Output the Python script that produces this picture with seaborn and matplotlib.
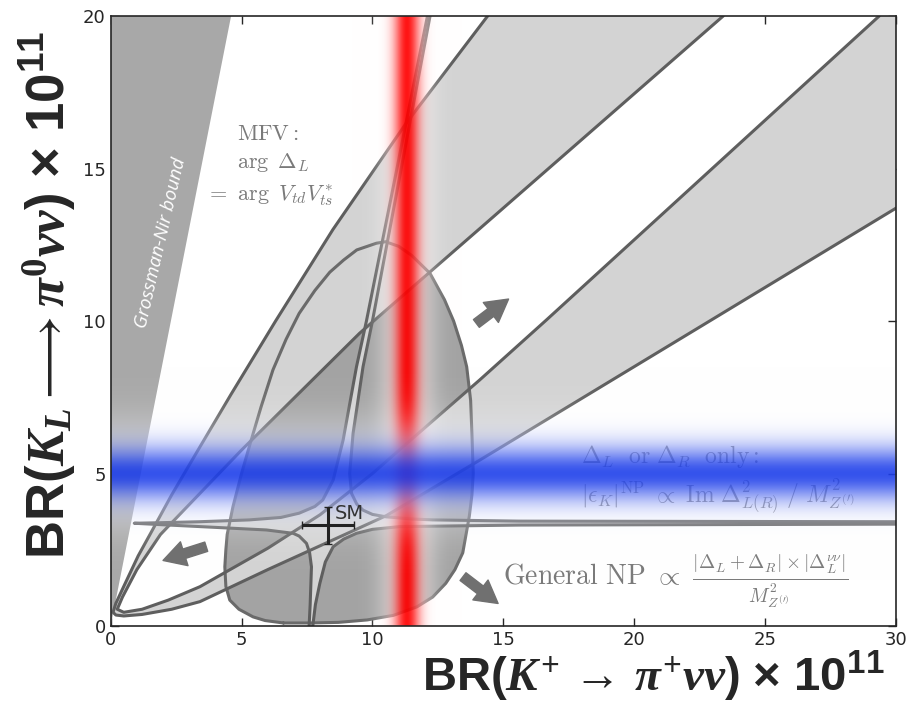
import numpy as np
import pandas as pd
import matplotlib
matplotlib.use("Agg")
import matplotlib.pyplot as plt
import seaborn as sns
from matplotlib.path import Path
from matplotlib.patches import PathPatch, Polygon

# === Data (BR x 1e11) ===
# Grossman-Nir bound edge
gn_x = [0.0, 4.6]
gn_y = [0.0, 20.0]

# General NP region ("egg")
egg_x = [6.6, 5.9, 5.44, 4.9, 4.55, 4.4, 4.36, 4.4, 4.45, 4.67, 5.0, 5.3, 5.75, 6.2, 6.7, 7.2, 7.8,
         8.37, 8.9, 9.4, 10.15, 10.5, 11.0, 11.5, 12.2, 12.75, 13.1, 13.4, 13.6, 13.75, 13.8, 13.85,
         13.8, 13.7, 13.45, 13.15, 12.8, 12.3, 11.7, 10.8, 9.8, 8.7, 7.6]
egg_y = [0.1, 0.18, 0.3, 0.55, 0.85, 1.3, 1.94, 2.5, 3.0, 3.91, 5.0, 5.9, 7.2, 8.4, 9.4, 10.25, 11.0,
         11.6, 12.0, 12.33, 12.55, 12.6, 12.45, 12.15, 11.56, 10.7, 10.0, 9.2, 8.5, 7.4, 6.3, 5.0,
         4.3, 3.6, 2.4, 1.85, 1.4, 0.95, 0.63, 0.35, 0.2, 0.12, 0.1]

# MFV band: outer curve (arm A, arm D) and inner curve (arm B, arm C)
arm_a_x = [14.4, 11.3, 8.49, 6.3, 4.6, 3.29, 2.33, 1.5, 1.05, 0.5, 0.2, 0.09]
arm_a_y = [20.0, 16.5, 13.0, 10.0, 7.6, 5.7, 4.3, 3.0, 2.3, 1.3, 0.75, 0.45]
arm_d_x = [0.09, 0.2, 0.5, 1.2, 2.33, 3.41, 6.0, 10.53, 14.1, 22.4, 30.0]
arm_d_y = [0.45, 0.36, 0.33, 0.38, 0.55, 0.8, 1.85, 3.62, 5.44, 9.75, 13.7]
arm_b_x = [23.4, 14.1, 10.66, 9.51, 5.0, 3.41, 1.9, 1.0, 0.45, 0.25]
arm_b_y = [20.0, 13.03, 10.46, 9.6, 5.77, 4.35, 3.0, 1.85, 0.95, 0.55]
arm_c_x = [0.25, 0.5, 1.2, 2.2, 3.41, 6.0, 8.0, 10.0, 12.0, 14.1, 16.64, 29.36]
arm_c_y = [0.55, 0.45, 0.55, 0.85, 1.29, 2.55, 3.65, 5.0, 6.5, 8.07, 10.03, 20.0]

# eps_K branches (Delta_L or Delta_R only)
ul_x = [0.9, 2.0, 3.4, 5.3, 6.5, 7.2, 7.8, 8.1, 8.5, 8.88, 9.39, 9.77, 12.1]
ul_y = [3.37, 3.39, 3.42, 3.48, 3.56, 3.70, 3.92, 4.13, 4.79, 6.1, 8.5, 10.0, 20.0]
ur_x = [12.2, 10.0, 9.64, 9.26, 9.13, 9.2, 9.4, 9.64, 10.0, 10.53, 11.5, 12.3, 15.6, 30.0]
ur_y = [20.0, 10.0, 8.5, 6.32, 5.0, 4.35, 4.0, 3.8, 3.66, 3.58, 3.51, 3.48, 3.44, 3.42]
lr_x = [30.0, 15.6, 11.04, 10.0, 9.39, 8.9, 8.5, 8.2, 7.99, 7.82, 7.72]
lr_y = [3.34, 3.31, 3.26, 3.17, 3.04, 2.85, 2.6, 2.1, 1.4, 0.7, 0.0]
ll_x = [7.58, 7.62, 7.67, 7.6, 7.48, 7.2, 6.97, 5.95, 3.41, 2.0, 0.9]
ll_y = [0.0, 0.7, 1.94, 2.4, 2.71, 2.95, 3.04, 3.15, 3.26, 3.32, 3.37]

# SM prediction
sm_x, sm_y = 8.3, 3.3
sm_xerr, sm_yerr = 1.0, 0.6

# experimental bands
red_x, red_w = 11.3, 0.4
blue_y, blue_w = 5.0, 0.75

# arrows (tail -> head)
arrow_tails = [(13.97, 9.92), (3.65, 2.6), (13.46, 1.62)]
arrow_heads = [(15.2, 10.72), (2.0, 2.15), (14.8, 0.74)]

# === Style ===
sns.set_style("ticks")
plt.rcParams["mathtext.fontset"] = "custom"
plt.rcParams["mathtext.it"] = "Liberation Serif:italic:bold"
plt.rcParams["mathtext.rm"] = "Liberation Serif:bold"
plt.rcParams["mathtext.bf"] = "Liberation Serif:bold"
plt.rcParams["mathtext.sf"] = "Liberation Sans:bold"

LINE = "#5e5e5e"
LIGHT = "#d3d3d3"
DARK = "#a3a3a3"
TXT = "#7a7a7a"

fig = plt.figure(figsize=(9.14, 7.14), dpi=100)
ax = fig.add_axes([0.1211, 0.1232, 0.8592, 0.8544])

# Grossman-Nir region
ax.add_patch(Polygon([(gn_x[0], gn_y[0]), (gn_x[1], gn_y[1]), (0, gn_y[1])],
                     closed=True, fc="#a8a8a8", ec="none", zorder=1))

# General NP egg
ax.add_patch(Polygon(list(zip(egg_x, egg_y)), closed=True, fc=DARK, ec="none", zorder=2))

# MFV annulus (outer curve minus inner curve)
outer = list(zip(arm_a_x, arm_a_y)) + list(zip(arm_d_x, arm_d_y)) + [(33, 16), (33, 23), (15, 23)]
inner = list(zip(arm_b_x, arm_b_y)) + list(zip(arm_c_x, arm_c_y)) + [(31, 22), (24, 22)]
inner = inner[::-1]
verts = outer + [outer[0]] + inner + [inner[0]]
codes = ([Path.MOVETO] + [Path.LINETO] * (len(outer) - 1) + [Path.CLOSEPOLY]
         + [Path.MOVETO] + [Path.LINETO] * (len(inner) - 1) + [Path.CLOSEPOLY])
ax.add_patch(PathPatch(Path(verts, codes), fc=LIGHT, ec="none", zorder=3))

# eps_K cross region
cross = (list(zip(ul_x, ul_y)) + [(12.1, 22), (12.2, 22)] + list(zip(ur_x, ur_y)) + [(32, 3.42), (32, 3.34)]
         + list(zip(lr_x, lr_y)) + [(7.72, -2), (7.58, -2)] + list(zip(ll_x, ll_y)))
ax.add_patch(Polygon(cross, closed=True, fc=LIGHT, ec="none", zorder=3))

# outlines
ex = egg_x + [egg_x[0]]
ey = egg_y + [egg_y[0]]
curves = [(ex, ey, "#6a6a6a"),
          (arm_a_x + arm_d_x, arm_a_y + arm_d_y, LINE),
          (arm_b_x + arm_c_x, arm_b_y + arm_c_y, LINE),
          (ll_x + ul_x, ll_y + ul_y, LINE),
          (ur_x, ur_y, LINE),
          (lr_x, lr_y, LINE)]
for cx, cy, col in curves:
    d = pd.DataFrame({"x": cx, "y": cy})
    sns.lineplot(data=d, x="x", y="y", sort=False, estimator=None, color=col,
                 lw=2.2, ax=ax, zorder=4, legend=False)

# texts beneath the bands
ax.text(4.81, 15.93, r"$\mathrm{MFV}:$", fontsize=16, color=TXT, math_fontfamily="cm", zorder=5)
ax.text(4.81, 15.02, r"$\arg\ \Delta_L$", fontsize=16, color=TXT, math_fontfamily="cm", zorder=5)
ax.text(3.66, 13.97, r"$=\ \arg\ V_{td}V_{ts}^*$", fontsize=16, color=TXT, math_fontfamily="cm", zorder=5)
ax.text(17.98, 5.33, r"$\Delta_L\ \ \mathrm{or}\ \Delta_R\ \ \mathrm{only}:$", fontsize=17,
        color="#707070", math_fontfamily="cm", zorder=5)
ax.text(17.98, 4.02, r"$|\epsilon_K|^{\mathrm{NP}}\ \propto\ \mathrm{Im}\ \Delta^2_{L(R)}\ /\ M^2_{Z^{(\prime)}}$",
        fontsize=17, color="#707070", math_fontfamily="cm", zorder=5)
ax.text(14.98, 1.35, r"$\mathrm{General\ NP}\ \propto\ \frac{|\Delta_L+\Delta_R|\times|\Delta_L^{\nu\nu}|}{M^2_{Z^{(\prime)}}}$",
        fontsize=20, color=TXT, math_fontfamily="cm", zorder=5, va="baseline")
ax.text(1.92, 12.56, "Grossman-Nir bound", rotation=77, color="white", fontsize=13.5,
        family="Open Sans", style="italic", ha="center", va="center", zorder=5)

# red vertical band
xs = np.linspace(red_x - 6 * red_w, red_x + 6 * red_w, 300)
t = np.exp(-0.5 * ((xs - red_x) / red_w) ** 2)
rgba = np.ones((1, len(xs), 4))
rgba[0, :, 1] = 1 - t
rgba[0, :, 2] = 1 - t
rgba[0, :, 3] = 0.92 * t ** 0.4
ax.imshow(rgba, extent=[xs[0], xs[-1], 0, 20], aspect="auto", origin="lower",
          interpolation="bilinear", zorder=6)

# blue horizontal band
ys = np.linspace(blue_y - 6 * blue_w, blue_y + 6 * blue_w, 300)
t = np.exp(-0.5 * ((ys - blue_y) / blue_w) ** 2)
rgba = np.ones((len(ys), 1, 4))
rgba[:, 0, 0] = 1 - 0.88 * t
rgba[:, 0, 1] = 1 - 0.75 * t
rgba[:, 0, 2] = 1 - 0.08 * t
rgba[:, 0, 3] = 0.9 * np.sqrt(t)
ax.imshow(rgba, extent=[0, 30, ys[0], ys[-1]], aspect="auto", origin="lower",
          interpolation="bilinear", zorder=6)

# arrows
for tail, head in zip(arrow_tails, arrow_heads):
    ax.annotate("", xy=head, xytext=tail, zorder=7,
                arrowprops=dict(arrowstyle="simple,head_length=0.8,head_width=0.9,tail_width=0.35",
                                mutation_scale=20, color="#707070", shrinkA=0, shrinkB=0))

# SM point
ax.errorbar(sm_x, sm_y, xerr=sm_xerr, yerr=sm_yerr, fmt="none", ecolor="#222222",
            elinewidth=2.2, capsize=3, capthick=1, zorder=8)
ax.text(sm_x + 0.25, sm_y + 0.2, "SM", fontsize=14, color="#333333", zorder=8)

ax.set_xlim(0, 30)
ax.set_ylim(0, 20)
ax.set_xticks([0, 5, 10, 15, 20, 25, 30])
ax.set_yticks([0, 5, 10, 15, 20])
ax.tick_params(direction="in", top=True, right=True, length=6, width=1, labelsize=13)
for s in ax.spines.values():
    s.set_linewidth(1.2)
    s.set_zorder(10)
ax.set_xlabel("")
ax.set_ylabel("")

fig.text(0.968, 0.031, r"BR($K^{+}\,\rightarrow\,\pi^{+}\nu\nu$) × $\mathsf{10^{11}}$",
         fontsize=34, family="Liberation Sans", weight="bold", ha="right", va="baseline",
         math_fontfamily="custom")
fig.text(0.052, 0.587, r"BR($K_{L}\longrightarrow\pi^{0}\nu\nu$) × $\mathsf{10^{11}}$",
         fontsize=38, family="Liberation Sans", weight="bold", ha="center", va="center",
         rotation=90, math_fontfamily="custom")

fig.savefig("out.png", dpi=100)
